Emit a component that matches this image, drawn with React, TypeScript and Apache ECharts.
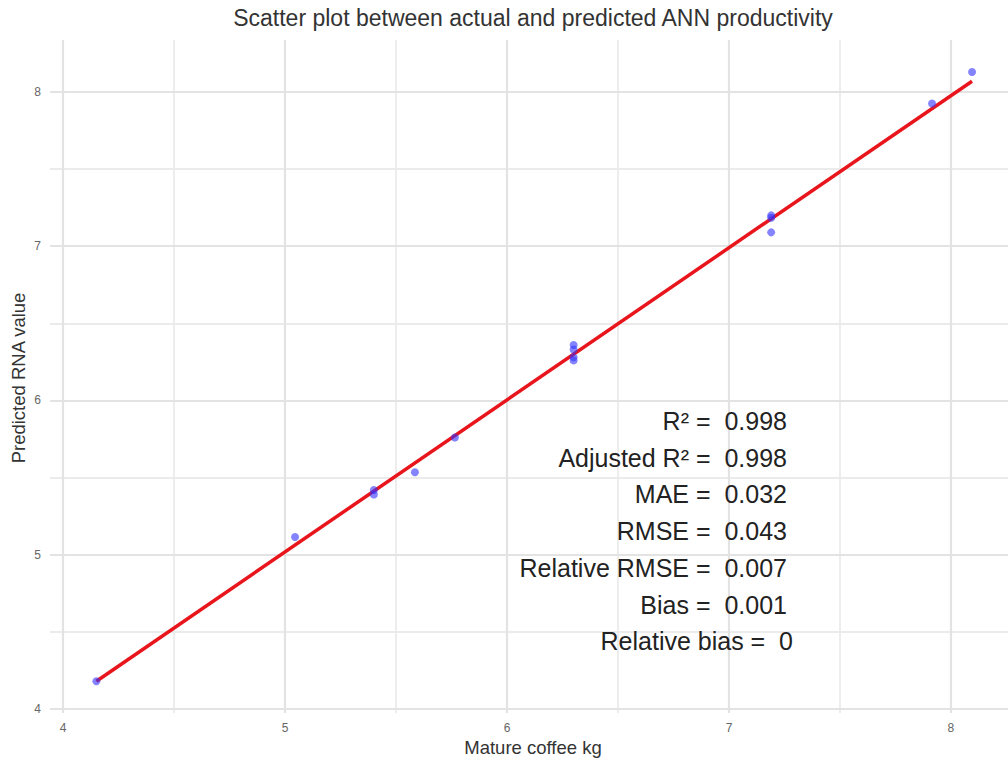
import React, { useEffect, useRef } from "react";
import * as echarts from "echarts";

const actualX = [4.15, 5.045, 5.4, 5.4, 5.585, 5.765, 6.3, 6.3, 6.3, 6.3, 7.19, 7.19, 7.19, 7.915, 8.095];
const predictedY = [4.18, 5.115, 5.42, 5.39, 5.535, 5.76, 6.36, 6.33, 6.28, 6.26, 7.2, 7.185, 7.09, 7.925, 8.13];
const fitX = [4.15, 8.095];
const fitY = [4.18, 8.07];
const xMajor = [4, 5, 6, 7, 8];
const xMinor = [4.5, 5.5, 6.5, 7.5];
const yMajor = [4, 5, 6, 7, 8];
const yMinor = [4.5, 5.5, 6.5, 7.5];
const statLabels = [
  "R² =  0.998",
  "Adjusted R² =  0.998",
  "MAE =  0.032",
  "RMSE =  0.043",
  "Relative RMSE =  0.007",
  "Bias =  0.001",
  "Relative bias =  0",
];
const titleText = "Scatter plot between actual and predicted ANN productivity";
const xTitle = "Mature coffee kg";
const yTitle = "Predicted RNA value";

const FONT = "'Liberation Sans', Arial, Helvetica, sans-serif";

export default function App() {
  const ref = useRef<HTMLDivElement>(null);
  useEffect(() => {
    document.body.style.margin = "0";
    if (!ref.current) return;
    const chart = echarts.init(ref.current, null, { renderer: "svg" });
    const fmt = (v: number) => {
      const r = Math.round(v * 1000) / 1000;
      return Number.isInteger(r) ? String(r) : "";
    };
    const majorStyle = { color: "#e3e3e3", width: 2.2, type: "solid" as const };
    const minorStyle = { color: "#ebebeb", width: 1.8, type: "solid" as const };
    const option: any = {
      animation: false,
      textStyle: { fontFamily: FONT },
      grid: { left: 50, right: 0, top: 40, bottom: 47, containLabel: false },
      xAxis: {
        type: "value",
        min: 3.941,
        max: 8.257,
        axisLine: { show: false },
        axisTick: { show: false },
        splitLine: { show: false },
        axisLabel: {
          customValues: xMajor,
          formatter: fmt,
          color: "#666",
          fontSize: 12,
          margin: 9,
          fontFamily: FONT,
        },
      },
      yAxis: {
        type: "value",
        min: 3.974,
        max: 8.337,
        axisLine: { show: false },
        axisTick: { show: false },
        splitLine: { show: false },
        axisLabel: {
          customValues: yMajor,
          formatter: fmt,
          color: "#666",
          fontSize: 12,
          margin: 9,
          fontFamily: FONT,
        },
      },
      series: [
        {
          type: "scatter",
          data: [],
          silent: true,
          z: 1,
          markLine: {
            silent: true,
            z: 1,
            symbol: "none",
            animation: false,
            label: { show: false },
            emphasis: { disabled: true },
            data: [
              ...xMinor.map((v) => ({ xAxis: v, lineStyle: minorStyle })),
              ...yMinor.map((v) => ({ yAxis: v, lineStyle: minorStyle })),
              ...xMajor.map((v) => ({ xAxis: v, lineStyle: majorStyle })),
              ...yMajor.map((v) => ({ yAxis: v, lineStyle: majorStyle })),
            ],
          },
        },
        {
          type: "line",
          data: fitX.map((x, i) => [x, fitY[i]]),
          showSymbol: false,
          symbol: "none",
          lineStyle: { color: "#e8161c", width: 3.5 },
          z: 3,
          silent: true,
        },
        {
          type: "scatter",
          data: actualX.map((x, i) => [x, predictedY[i]]),
          symbolSize: 8,
          itemStyle: { color: "rgba(50,50,255,0.75)" },
          z: 4,
          silent: true,
        },
      ],
      graphic: [
        {
          type: "text",
          x: 533,
          y: 18,
          style: { text: titleText, fontSize: 23, fill: "#333", fontFamily: FONT, textAlign: "center", textVerticalAlign: "middle" },
        },
        {
          type: "text",
          x: 533,
          y: 747,
          style: { text: xTitle, fontSize: 18.5, fill: "#333", fontFamily: FONT, textAlign: "center", textVerticalAlign: "middle" },
        },
        {
          type: "text",
          x: 18,
          y: 378,
          rotation: Math.PI / 2,
          style: { text: yTitle, fontSize: 18.5, fill: "#333", fontFamily: FONT, textAlign: "center", textVerticalAlign: "middle" },
        },
        ...statLabels.map((t, i) => ({
          type: "text",
          x: i === statLabels.length - 1 ? 793 : 787,
          y: 421 + i * 36.7,
          z: 10,
          style: { text: t, fontSize: 25, fill: "#222", fontFamily: FONT, textAlign: "right", textVerticalAlign: "middle" },
        })),
      ],
    };
    chart.setOption(option);
    return () => chart.dispose();
  }, []);
  return <div ref={ref} style={{ width: 1008, height: 760 }} />;
}
